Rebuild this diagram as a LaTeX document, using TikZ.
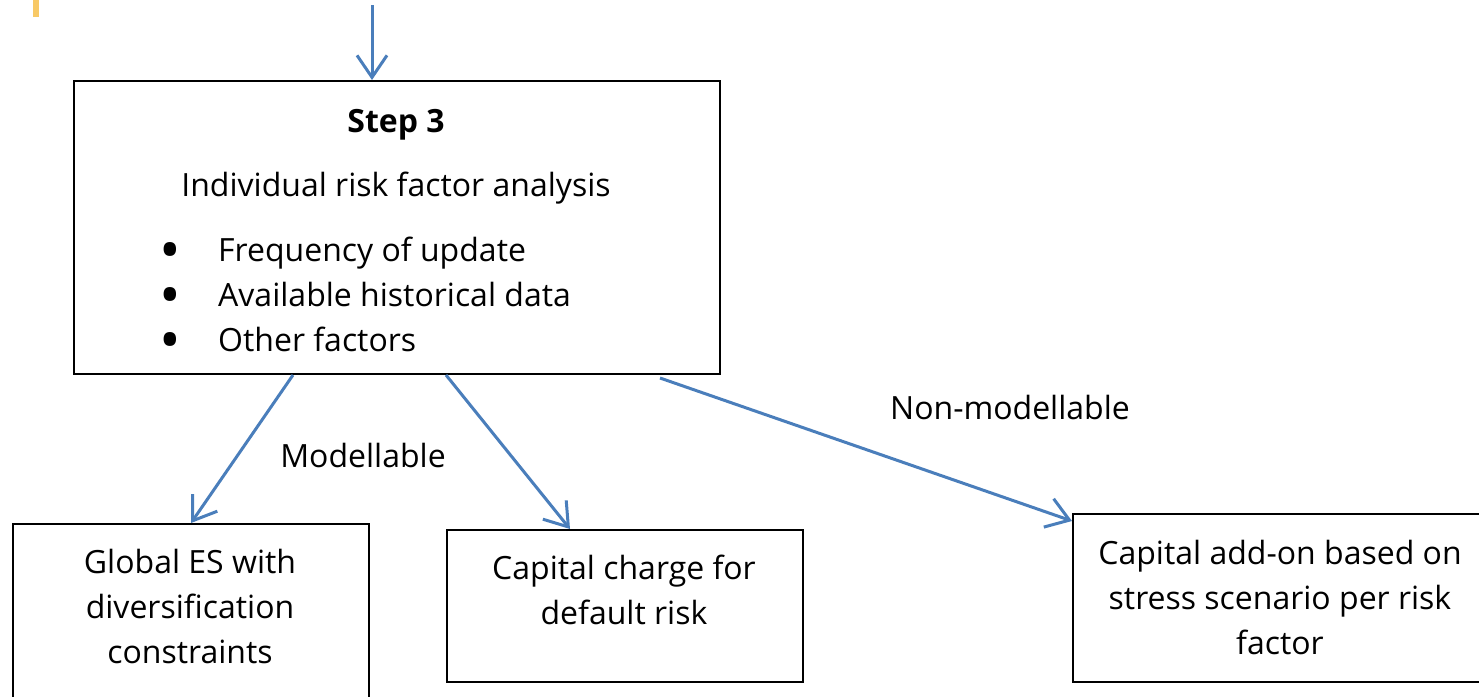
\documentclass[tikz,border=0pt]{standalone}
\usepackage{fontspec}
\usepackage{graphicx}
\setmainfont{Open Sans}
\usetikzlibrary{arrows.meta,positioning}
\definecolor{linkblue}{HTML}{4A7EBB}
\definecolor{tabyellow}{HTML}{F8C966}
\newcommand{\bigdot}{\makebox[59pt][l]{\raisebox{-9pt}[0pt][0pt]{\scalebox{1.8}{\textbullet}}}}
\tikzset{
  box/.style={draw, line width=2pt, rectangle, inner sep=0pt},
  txt/.style={font=\fontsize{32}{45}\selectfont, align=center, inner sep=0pt},
  link/.style={draw=linkblue, line width=3pt, -{Straight Barb[length=22pt,width=30pt]}}
}
\begin{document}
\begin{tikzpicture}[x=1pt,y=-1pt]
      \useasboundingbox (0,0) rectangle (1479,696);
      \clip (0,0) rectangle (1479,696);
      \fill[tabyellow] (33,0) rectangle (39,17);
      % boxes
      \node[box, minimum width=646pt, minimum height=293pt, anchor=north west] (step) at (73,80) {};
      \node[box, minimum width=356pt, minimum height=240pt, anchor=north west] (global) at (12,523) {};
      \node[box, minimum width=356pt, minimum height=152pt, anchor=north west] (default) at (446,529) {};
      \node[box, minimum width=460pt, minimum height=168pt, anchor=north west] (addon) at (1072,513) {};
      % texts
      \node[txt, font=\fontsize{32}{45}\selectfont\bfseries] (title) at (396,125) {Step 3};
      \node[txt] (analysis) at (396,188) {Individual risk factor analysis};
      \node[txt, anchor=north west] (factors) at (159,230) {%
        \begin{tabular}{@{}l@{}l@{}}
          \bigdot & Frequency of update\\
          \bigdot & Available historical data\\
          \bigdot & Other factors
        \end{tabular}};
      \node[txt] (globaltxt) at (190,606) {Global ES with\\diversification\\constraints};
      \node[txt] (defaulttxt) at (624,590) {Capital charge for\\default risk};
      \node[txt] (addontxt) at (1280,597) {Capital add-on based on\\stress scenario per risk\\factor};
      \node[txt] (modellable) at (363,455) {Modellable};
      \node[txt] (nonmodellable) at (1010,407) {Non-modellable};
      % connectors
      \coordinate (entry) at (372,5);
      \begin{scope}[link]
        \draw (entry) -- (entry |- step.north);
        \draw ([xshift=220pt]step.south west) -- (global.north);
        \draw ([xshift=373pt]step.south west) -- ([xshift=124pt]default.north west);
        \draw ([xshift=587pt,yshift=-3pt]step.south west) -- ([yshift=-8pt]addon.north west);
      \end{scope}
    \end{tikzpicture}
\end{document}
